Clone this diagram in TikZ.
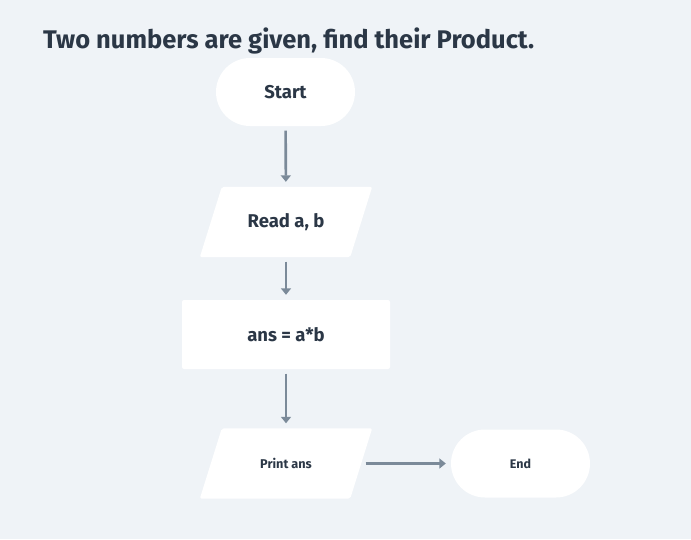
\documentclass[tikz,border=0pt]{standalone}
\usepackage{fontspec}
\setmainfont{Fira Sans}
\usepackage{tikz}
\usetikzlibrary{arrows.meta}
\usetikzlibrary{backgrounds}
\definecolor{bgcol}{HTML}{EFF3F7}
\definecolor{inkcol}{HTML}{2B3746}
\definecolor{arrcol}{HTML}{7B8A99}

\begin{document}
\begin{tikzpicture}[x=1pt, y=-1pt, terminal/.style={rectangle, rounded corners=34pt, fill=white, minimum width=139pt, minimum height=68pt, inner sep=0pt, text=inkcol, font=\bfseries\fontsize{18.5}{20}\selectfont}]
    \tikzset{process/.style={rectangle, rounded corners=2pt, fill=white, minimum width=208pt, minimum height=69pt, inner sep=0pt, text=inkcol, font=\bfseries\fontsize{18.5}{20}\selectfont}}
    % text part of a parallelogram, the slanted fill goes on the background layer
    \tikzset{io/.style={rectangle, minimum width=150pt, minimum height=70pt, inner sep=0pt, text=inkcol, font=\bfseries\fontsize{18.5}{20}\selectfont}}
    \tikzset{flow/.style={draw=arrcol, line width=2.6pt, >={Triangle[width=10pt,length=6.5pt]}, ->, shorten <=4.5pt, shorten >=5pt}}
    \def \slant {11}

    \node[anchor=base west, text=inkcol, font=\bfseries\fontsize{25.5}{28}\selectfont, inner sep=0pt] (title) at (43,48.5) {Two numbers are given, find their Product.};

    \node[terminal] (start) at (285.5,92) {Start};
    \node[io] (read) at (286,222) {Read a, b};
    \node[process] (calc) at (286,334.5) {ans = a*b};
    \node[io, font=\bfseries\fontsize{12.7}{14}\selectfont] (print) at (286,463.5) {Print ans};
    \node[terminal, font=\bfseries\fontsize{12.5}{14}\selectfont] (end) at (520.5,463.5) {End};

    \begin{pgfonlayer}{background}
    \fill[bgcol] (0,0) rectangle (691,539);
    \foreach \p in {read, print} {
    \fill[white, rounded corners=2pt] ([xshift=\slant pt]\p.north west) -- ([xshift=\slant pt]\p.north east) -- ([xshift=-\slant pt]\p.south east) -- ([xshift=-\slant pt]\p.south west) -- cycle;
    }
    \end{pgfonlayer}

    \draw[flow] (start) -- (read);
    \draw[flow] (read) -- (calc);
    \draw[flow] (calc) -- (print);
    \draw[flow] (print) -- (end);
\end{tikzpicture}
\end{document}
